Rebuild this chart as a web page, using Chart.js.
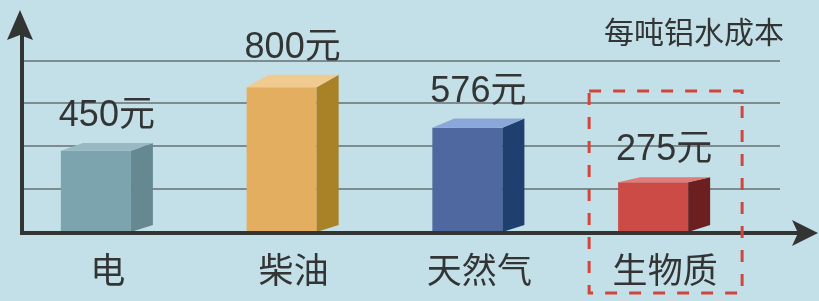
<!DOCTYPE html>
<html>
<head>
<meta charset="utf-8">
<script src="https://cdn.jsdelivr.net/npm/chart.js@4/dist/chart.umd.min.js"></script>
<style>
  body { margin: 0; background: #c3e0e8; }
  #box { width: 819px; height: 301px; }
</style>
</head>
<body>
<div id="box"><canvas id="myChart"></canvas></div>
<script>
// 数据
let categories = ["电", "柴油", "天然气", "生物质"];
let values = [450, 800, 576, 275];
let unit = "元";
let gridValues = [237, 474, 711, 948];
let title = "每吨铝水成本";

// 颜色 (正面 / 侧面 / 顶面)
let frontColors = ["#7ba4ae", "#e3ae5f", "#4f68a0", "#cc4b46"];
let sideColors = ["#668891", "#a98127", "#1e3f6f", "#6b1f21"];
let topColors = ["#98b9c1", "#f0ca8f", "#8ba6d8", "#df7b78"];

let ink = "#333535";
let axisX0 = 22, axisY0 = 233, gridRight = 780;

function poly(ctx, pts, color) {
	ctx.beginPath();
	ctx.moveTo(pts[0][0], pts[0][1]);
	for (let i = 1; i < pts.length; i++) ctx.lineTo(pts[i][0], pts[i][1]);
	ctx.closePath();
	ctx.fillStyle = color;
	ctx.fill();
}

const deco = {
	id: 'deco',
	beforeDatasetsDraw(chart) {
		const ctx = chart.ctx;
		const y = chart.scales.y;
		ctx.save();
		ctx.strokeStyle = "#7e8b8f";
		ctx.lineWidth = 2;
		gridValues.forEach(v => {
			let py = Math.round(y.getPixelForValue(v));
			ctx.beginPath();
			ctx.moveTo(axisX0, py);
			ctx.lineTo(gridRight, py);
			ctx.stroke();
		});
		ctx.restore();
	},
	afterDatasetsDraw(chart) {
		const ctx = chart.ctx;
		const meta = chart.getDatasetMeta(0);
		const dx = 22;
		ctx.save();
		// 立体效果
		meta.data.forEach((bar, i) => {
			let l = bar.x - bar.width / 2, r = bar.x + bar.width / 2;
			let dyTop = -0.08 * (bar.base - bar.y) - 1;
			poly(ctx, [[r, bar.y], [r + dx, bar.y + dyTop], [r + dx, bar.base - 7], [r, bar.base]], sideColors[i]);
			poly(ctx, [[l, bar.y], [l + dx, bar.y + dyTop], [r + dx, bar.y + dyTop], [r, bar.y]], topColors[i]);
			// 数值
			ctx.fillStyle = ink;
			ctx.font = "36px 'Liberation Sans', 'Noto Sans CJK SC'";
			ctx.textAlign = "center";
			ctx.textBaseline = "alphabetic";
			ctx.fillText(values[i] + unit, bar.x + dx / 2, bar.y + dyTop - 17);
		});

		// 坐标轴
		ctx.strokeStyle = ink;
		ctx.fillStyle = ink;
		ctx.lineWidth = 4;
		ctx.beginPath();
		ctx.moveTo(axisX0, 34);
		ctx.lineTo(axisX0, axisY0);
		ctx.lineTo(798, axisY0);
		ctx.stroke();
		poly(ctx, [[20, 10], [33, 40], [20, 35], [7, 40]], ink);
		poly(ctx, [[818, axisY0], [792, 246], [798, axisY0], [792, 220]], ink);

		// 红色虚线框
		let cx = chart.scales.x.getPixelForValue(3) + 12;
		ctx.strokeStyle = "#d2453b";
		ctx.lineWidth = 3;
		ctx.setLineDash([12, 12]);
		ctx.strokeRect(cx - 76, 91, 153, 202);
		ctx.setLineDash([]);

		// 标题
		ctx.fillStyle = ink;
		ctx.font = "30px 'Noto Sans CJK SC'";
		ctx.textAlign = "right";
		ctx.textBaseline = "middle";
		ctx.fillText(title, 784, 32);
		ctx.restore();
	}
};

let ctx = document.getElementById('myChart').getContext('2d');
let chart = new Chart(ctx, {
	type: 'bar',
	data: {
		labels: categories,
		datasets: [{
			data: values,
			backgroundColor: frontColors,
			borderWidth: 0,
			categoryPercentage: 1,
			barPercentage: 0.377
		}]
	},
	options: {
		responsive: true,
		maintainAspectRatio: false,
		animation: false,
		layout: { padding: { left: 3, right: 73, top: 15, bottom: 0 } },
		plugins: {
			legend: { display: false },
			tooltip: { enabled: false }
		},
		scales: {
			x: {
				afterFit: (scale) => { scale.height = 69; },
				grid: { display: false, drawTicks: false },
				border: { display: false },
				ticks: {
					color: ink,
					padding: 17,
					labelOffset: 12,
					font: { family: "'Noto Sans CJK SC'", size: 35 }
				}
			},
			y: {
				min: 0,
				max: 1200,
				grid: { display: false, drawTicks: false },
				border: { display: false },
				ticks: { display: false }
			}
		}
	},
	plugins: [deco]
});
</script>
</body>
</html>
